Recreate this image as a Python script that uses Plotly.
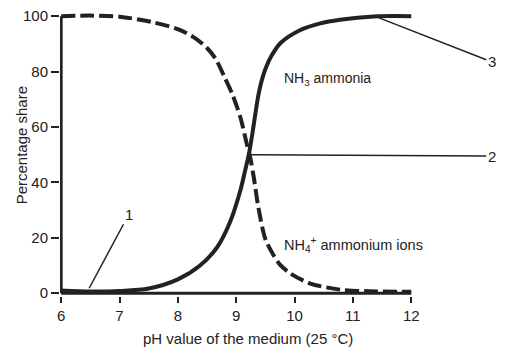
import plotly.graph_objects as go

ph_nh3 = [6.0, 6.5, 7.0, 7.5, 8.0, 8.38, 8.67, 8.9, 9.07, 9.15, 9.22, 9.28, 9.33,
          9.38, 9.44, 9.51, 9.6, 9.76, 10.1, 10.44, 10.78, 11.36, 12.0]
nh3 = [1.0, 0.6, 0.8, 1.7, 5.0, 10, 16.5, 26, 37, 44, 50.5, 58, 65,
       71.5, 77, 81.5, 85.5, 90.3, 95, 97.4, 98.7, 99.9, 100]

ph_nh4 = [6.0, 6.5, 7.0, 7.55, 8.0, 8.3, 8.5, 8.65, 8.8, 8.93, 9.07, 9.18, 9.24, 9.3, 9.38,
          9.5, 9.64, 9.75, 9.93, 10.27, 10.78, 11.3, 12.0]
nh4 = [100, 100.2, 99.8, 97.9, 95.3, 92, 88.5, 84.5, 78, 72, 63.6, 54, 49, 42, 31,
       19.5, 13.7, 10.3, 7.1, 3.5, 1.3, 0.7, 0.5]

x_ticks = [6, 7, 8, 9, 10, 11, 12]
y_ticks = [0, 20, 40, 60, 80, 100]

x_title = "pH value of the medium (25 °C)"
y_title = "Percentage share"

label_1 = dict(text="1", head=(6.48, 1.8), tail=(7.16, 28.5))
label_2 = dict(text="2", head=(9.24, 50), tail=(13.38, 49.5))
label_3 = dict(text="3", head=(11.35, 100.2), tail=(13.38, 83.5))

ink = "#222222"
font = "Liberation Sans, Arial, sans-serif"

fig = go.Figure()
fig.add_trace(go.Scatter(x=ph_nh4, y=nh4, mode="lines",
                         line=dict(color=ink, width=4, dash="14px,5px", shape="spline", smoothing=0.8),
                         hoverinfo="skip"))
fig.add_trace(go.Scatter(x=ph_nh3, y=nh3, mode="lines",
                         line=dict(color=ink, width=4, shape="spline", smoothing=0.8),
                         hoverinfo="skip"))

# axis lines
fig.add_shape(type="line", x0=x_ticks[0], x1=x_ticks[-1], y0=0, y1=0,
              line=dict(color=ink, width=3))
fig.add_shape(type="line", x0=x_ticks[0], x1=x_ticks[0], y0=0, y1=y_ticks[-1],
              line=dict(color=ink, width=3))

for lab in (label_1, label_2, label_3):
    fig.add_annotation(x=lab["head"][0], y=lab["head"][1],
                       ax=lab["tail"][0], ay=lab["tail"][1], axref="x", ayref="y",
                       text=lab["text"], showarrow=True, arrowhead=0, arrowwidth=1.5,
                       arrowcolor=ink, standoff=0, startstandoff=0,
                       font=dict(size=15, color=ink, family=font))

fig.add_annotation(x=9.78, y=77.5, text="NH<sub>3</sub> ammonia", showarrow=False,
                   xanchor="left", font=dict(size=14, color=ink, family=font))
fig.add_annotation(x=9.78, y=17.5, text="NH<sub>4</sub><sup>+</sup> ammonium ions", showarrow=False,
                   xanchor="left", font=dict(size=14.5, color=ink, family=font))

# axis titles
fig.add_annotation(xref="paper", yref="paper", x=0.532, y=-0.151, text=x_title,
                   xanchor="center", yanchor="middle",
                   showarrow=False, font=dict(size=15, color=ink, family=font))
fig.add_annotation(xref="paper", yref="paper", x=-0.108, y=0.53, text=y_title,
                   xanchor="center", yanchor="middle",
                   textangle=-90, showarrow=False, font=dict(size=15, color=ink, family=font))

fig.update_xaxes(range=[5.98, 12.03], tickvals=x_ticks, ticks="outside", ticklen=6,
                 tickwidth=2, tickcolor=ink, showgrid=False, zeroline=False, showline=False,
                 automargin=False,
                 tickfont=dict(size=15, color=ink, family=font))
fig.update_yaxes(range=[-1, 101.5], tickvals=y_ticks, ticks="outside", ticklen=8,
                 tickwidth=2, tickcolor=ink, showgrid=False, zeroline=False, showline=False,
                 automargin=False,
                 tickfont=dict(size=15, color=ink, family=font))

fig.update_layout(width=518, height=354, showlegend=False,
                  margin=dict(l=60, r=105, t=12, b=58),
                  plot_bgcolor="white", paper_bgcolor="white")

fig.write_html("out.html")
